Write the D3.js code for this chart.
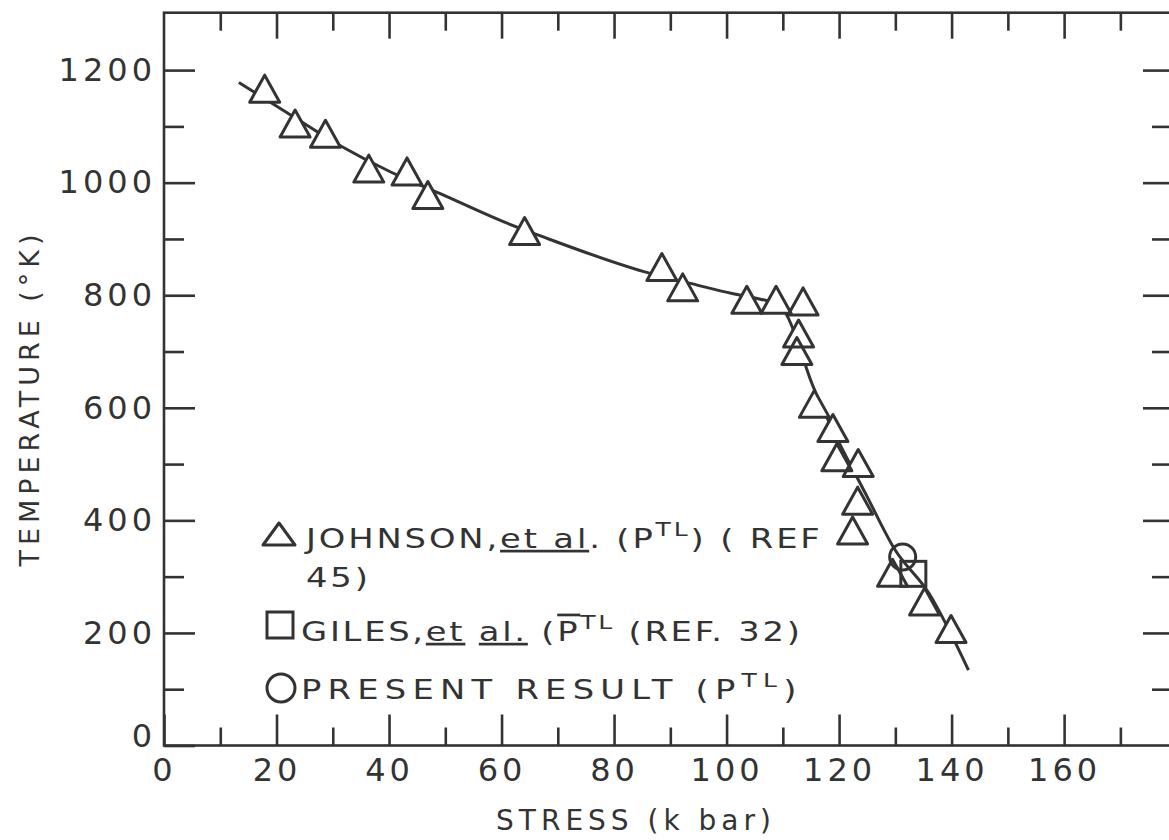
<!DOCTYPE html>
<html>
<head>
<meta charset="utf-8">
<script src="https://cdn.jsdelivr.net/npm/d3@7"></script>
<style>
    body { margin: 0; background: #ffffff; }
    #chart { width: 1169px; height: 840px; }
    text { font-family: "DejaVu Sans", sans-serif; fill: #333333; }
    .axis line { stroke: #333333; stroke-width: 2.6; }
    .axis path { display: none; }
</style>
</head>
<body>
<div id="chart"></div>
<script>

// data
const johnsonStress = [17.9, 23.3, 28.7, 36.4, 43.2, 46.9, 64.1, 88.5, 92.2, 103.6, 108.8, 113.6,
    112.8, 112.5, 115.6, 118.9, 119.6, 123.4, 123.3, 122.4, 129.5, 135.2, 139.9];
const johnsonTemp = [1159, 1097, 1079, 1017, 1012, 970, 906, 842, 806, 784, 784, 781,
    724, 693, 599, 556, 504, 494, 427, 374, 299, 248, 199];

const gilesStress = [133.2];
const gilesTemp = [305];

const presentStress = [131.3];
const presentTemp = [335];

// hand drawn fit line
const curveStress = [13.3, 21.6, 31.1, 40.3, 49, 61, 67.3, 85.3, 94.8, 101, 106, 109, 110.5, 115.3, 125.3, 129.8, 136, 143];
const curveTemp = [1178, 1126, 1067, 1019, 981, 928, 904, 842, 818, 803, 793, 785, 768, 640, 436, 350, 270, 134];

// ticks
const xMajorTicks = [0, 20, 40, 60, 80, 100, 120, 140, 160];
const xMinorTicks = [10, 30, 50, 70, 90, 110, 130, 150, 170];
const yMajorTicks = [0, 200, 400, 600, 800, 1000, 1200];
const yMinorTicks = [100, 300, 500, 700, 900, 1100];

const xTitle = "STRESS (k bar)";
const yTitle = "TEMPERATURE (°K)";


class StressTempVis {

    constructor(parentElement) {
        this.parentElement = parentElement;
        this.initVis();
    }

    initVis() {
        let vis = this;

        vis.width = 1169;
        vis.height = 840;

        vis.svg = d3.select("#" + vis.parentElement).append("svg")
            .attr("width", vis.width)
            .attr("height", vis.height);

        // plot box edges in pixels
        vis.box = {left: 164, right: 1171, top: 12.7, bottom: 745.5};

        vis.x = d3.scaleLinear()
            .domain([0, 179])
            .range([vis.box.left, vis.box.right]);

        vis.y = d3.scaleLinear()
            .domain([0, 1302])
            .range([vis.box.bottom, vis.box.top]);

        vis.johnson = johnsonStress.map((d, i) => ({stress: d, temp: johnsonTemp[i]}));
        vis.giles = gilesStress.map((d, i) => ({stress: d, temp: gilesTemp[i]}));
        vis.present = presentStress.map((d, i) => ({stress: d, temp: presentTemp[i]}));
        vis.curve = curveStress.map((d, i) => ({stress: d, temp: curveTemp[i]}));

        vis.drawAxes();
        vis.drawMarks();
        vis.drawLegend();
    }

    drawAxes() {
        let vis = this;

        // frame
        vis.svg.append("rect")
            .attr("x", vis.box.left)
            .attr("y", vis.box.top)
            .attr("width", vis.box.right - vis.box.left)
            .attr("height", vis.box.bottom - vis.box.top)
            .attr("fill", "none")
            .attr("stroke", "#333333")
            .attr("stroke-width", 2.6);

        // bottom
        vis.svg.append("g")
            .attr("class", "axis")
            .attr("transform", `translate(0, ${vis.box.bottom})`)
            .call(d3.axisBottom(vis.x).tickValues(xMajorTicks).tickSize(-31).tickPadding(13).tickFormat(d3.format("d")));
        vis.svg.append("g")
            .attr("class", "axis")
            .attr("transform", `translate(0, ${vis.box.bottom})`)
            .call(d3.axisBottom(vis.x).tickValues(xMinorTicks).tickSize(-18).tickFormat(""));

        // top
        vis.svg.append("g")
            .attr("class", "axis")
            .attr("transform", `translate(0, ${vis.box.top})`)
            .call(d3.axisTop(vis.x).tickValues(xMajorTicks.slice(1)).tickSize(-26).tickFormat(""));
        vis.svg.append("g")
            .attr("class", "axis")
            .attr("transform", `translate(0, ${vis.box.top})`)
            .call(d3.axisTop(vis.x).tickValues(xMinorTicks).tickSize(-18).tickFormat(""));

        // left
        vis.svg.append("g")
            .attr("class", "axis y-left")
            .attr("transform", `translate(${vis.box.left}, 0)`)
            .call(d3.axisLeft(vis.y).tickValues(yMajorTicks).tickSize(-31).tickPadding(8).tickFormat(d3.format("d")));
        vis.svg.append("g")
            .attr("class", "axis")
            .attr("transform", `translate(${vis.box.left}, 0)`)
            .call(d3.axisLeft(vis.y).tickValues(yMinorTicks).tickSize(-20).tickFormat(""));

        // right
        vis.svg.append("g")
            .attr("class", "axis")
            .attr("transform", `translate(${vis.box.right}, 0)`)
            .call(d3.axisRight(vis.y).tickValues(yMajorTicks.slice(1)).tickSize(-28).tickFormat(""));
        vis.svg.append("g")
            .attr("class", "axis")
            .attr("transform", `translate(${vis.box.right}, 0)`)
            .call(d3.axisRight(vis.y).tickValues(yMinorTicks).tickSize(-19).tickFormat(""));

        vis.svg.selectAll(".axis text")
            .style("font-size", "32px")
            .style("letter-spacing", "4px")
            .style("font-family", "DejaVu Sans")
            .attr("fill", "#333333");

        // the zero label sits a bit higher than its tick
        vis.svg.selectAll(".y-left .tick text")
            .filter(d => d === 0)
            .attr("y", -9);

        // axis titles
        vis.svg.append("text")
            .attr("x", 636)
            .attr("y", 830)
            .attr("text-anchor", "middle")
            .style("font-size", "28px")
            .style("letter-spacing", "5px")
            .text(xTitle);

        vis.svg.append("text")
            .attr("transform", "translate(39, 398) rotate(-90)")
            .attr("text-anchor", "middle")
            .style("font-size", "27px")
            .style("letter-spacing", "5px")
            .text(yTitle);
    }

    drawMarks() {
        let vis = this;

        let line = d3.line()
            .x(d => vis.x(d.stress))
            .y(d => vis.y(d.temp))
            .curve(d3.curveMonotoneX);

        vis.svg.append("path")
            .datum(vis.curve)
            .attr("d", line)
            .attr("fill", "none")
            .attr("stroke", "#333333")
            .attr("stroke-width", 3);

        // triangle, centroid at origin
        vis.triPath = "M0,-18L15,9L-15,9Z";

        // white knock-out so the line stops at each triangle
        vis.svg.selectAll(".tri-fill")
            .data(vis.johnson)
            .enter().append("path")
            .attr("class", "tri-fill")
            .attr("d", vis.triPath)
            .attr("transform", d => `translate(${vis.x(d.stress)}, ${vis.y(d.temp)})`)
            .attr("fill", "#ffffff");

        vis.svg.selectAll(".tri")
            .data(vis.johnson)
            .enter().append("path")
            .attr("class", "tri")
            .attr("d", vis.triPath)
            .attr("transform", d => `translate(${vis.x(d.stress)}, ${vis.y(d.temp)})`)
            .attr("fill", "none")
            .attr("stroke", "#333333")
            .attr("stroke-width", 3)
            .attr("stroke-linejoin", "round");

        vis.svg.selectAll(".sq")
            .data(vis.giles)
            .enter().append("rect")
            .attr("class", "sq")
            .attr("x", d => vis.x(d.stress) - 12.5)
            .attr("y", d => vis.y(d.temp) - 12.5)
            .attr("width", 25)
            .attr("height", 25)
            .attr("fill", "none")
            .attr("stroke", "#333333")
            .attr("stroke-width", 3);

        vis.svg.selectAll(".circ")
            .data(vis.present)
            .enter().append("circle")
            .attr("class", "circ")
            .attr("cx", d => vis.x(d.stress))
            .attr("cy", d => vis.y(d.temp))
            .attr("r", 13)
            .attr("fill", "none")
            .attr("stroke", "#333333")
            .attr("stroke-width", 3);
    }

    drawLegend() {
        let vis = this;

        let legend = vis.svg.append("g").attr("class", "legend");

        // lettering is wide: stretch it sideways instead of spacing it out
        let style = (x, y, spacing) => sel => sel
            .attr("transform", `translate(${x}, ${y}) scale(1.25, 1)`)
            .style("font-size", "27px")
            .style("letter-spacing", spacing + "px");

        // symbols
        legend.append("path")
            .attr("d", "M0,-15L16,7L-16,7Z")
            .attr("transform", "translate(279, 538)")
            .attr("fill", "none")
            .attr("stroke", "#333333")
            .attr("stroke-width", 3)
            .attr("stroke-linejoin", "round");

        legend.append("rect")
            .attr("x", 267).attr("y", 612)
            .attr("width", 26).attr("height", 26)
            .attr("fill", "none")
            .attr("stroke", "#333333")
            .attr("stroke-width", 3);

        legend.append("circle")
            .attr("cx", 281).attr("cy", 688)
            .attr("r", 14)
            .attr("fill", "none")
            .attr("stroke", "#333333")
            .attr("stroke-width", 3);

        // line 1
        let t1 = legend.append("text").call(style(306, 548, 2.3));
        t1.append("tspan").text("JOHNSON,");
        t1.append("tspan").style("text-decoration", "underline").text("et  al");
        t1.append("tspan").text(". (P");
        t1.append("tspan").attr("dy", -12).style("font-size", "20px").text("TL");
        t1.append("tspan").attr("dy", 12).text(") ( REF");

        legend.append("text").call(style(306, 587, 2.3)).text("45)");

        // line 3
        let t3 = legend.append("text").call(style(301, 641, 2.2));
        t3.append("tspan").text("GILES,");
        t3.append("tspan").style("text-decoration", "underline").text("et");
        t3.append("tspan").text(" ");
        t3.append("tspan").style("text-decoration", "underline").text("al.");
        t3.append("tspan").text(" (");
        t3.append("tspan").style("text-decoration", "overline").text("P");
        t3.append("tspan").attr("dy", -12).style("font-size", "20px").text("TL");
        t3.append("tspan").attr("dy", 12).text(" (REF. 32)");

        // line 4
        let t4 = legend.append("text").call(style(301, 699, 5));
        t4.append("tspan").text("PRESENT RESULT (P");
        t4.append("tspan").attr("dy", -12).style("font-size", "20px").text("TL");
        t4.append("tspan").attr("dy", 12).text(")");
    }
}

new StressTempVis("chart");

</script>
</body>
</html>
